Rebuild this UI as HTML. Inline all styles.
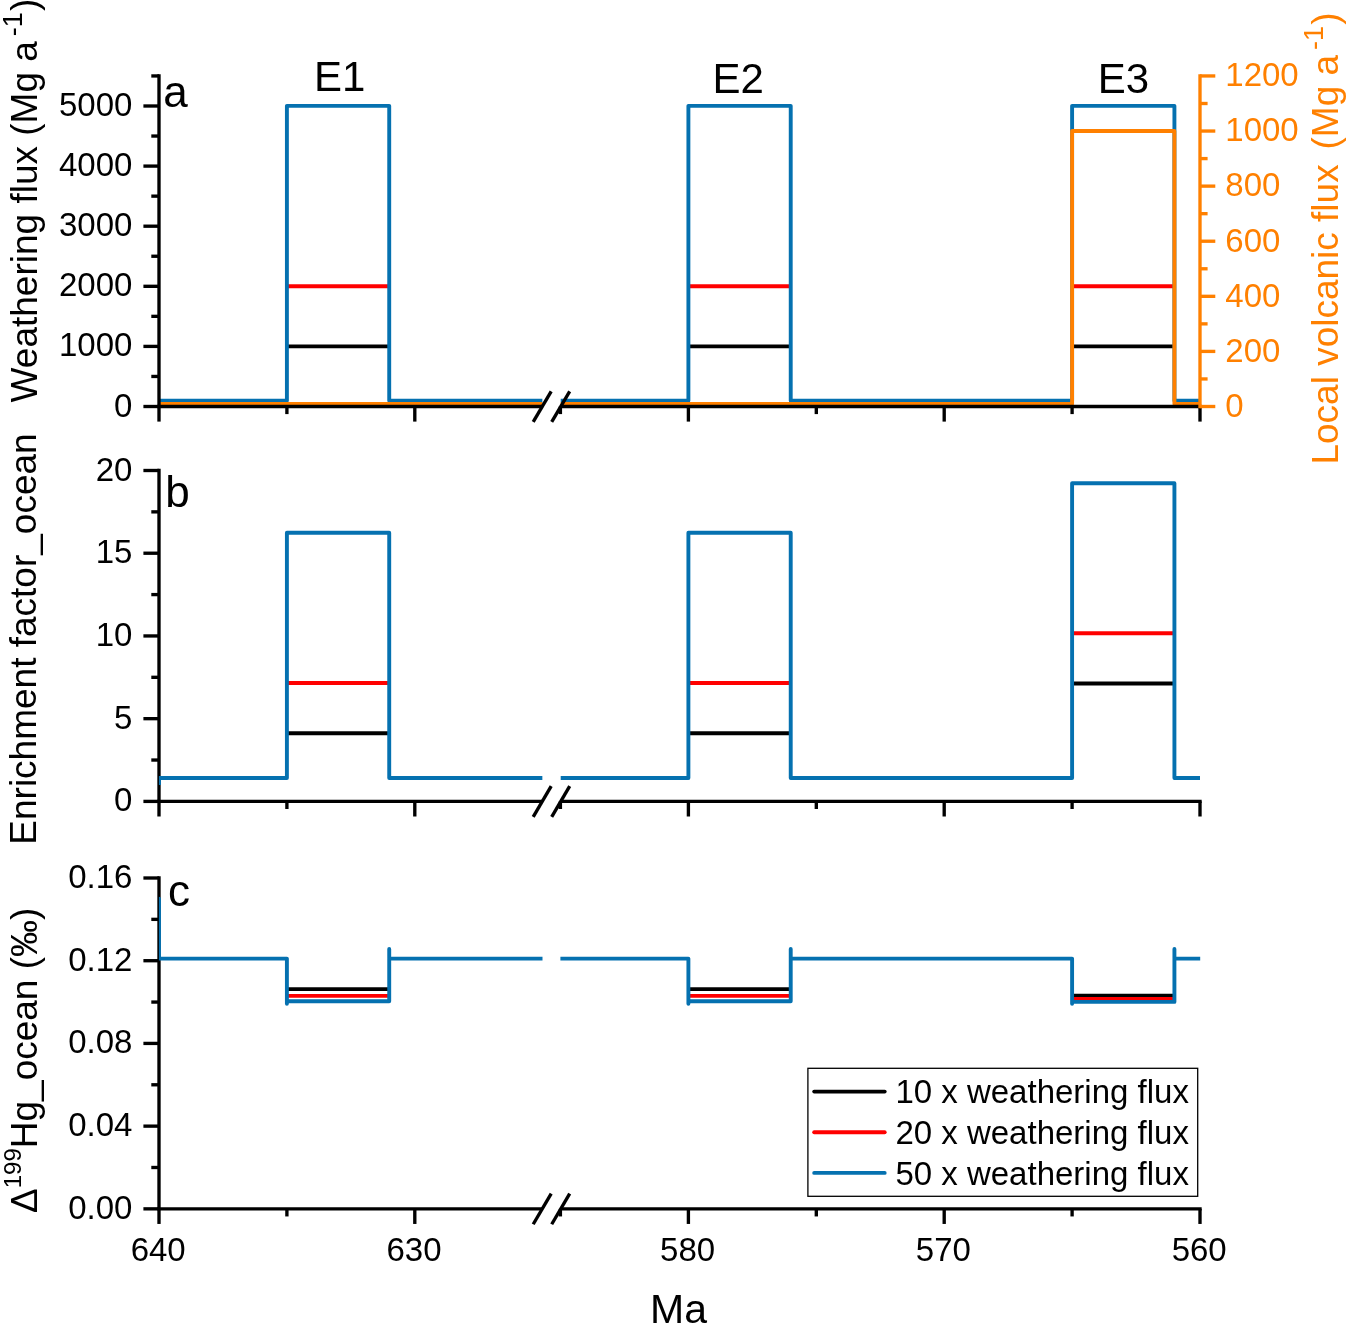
<!DOCTYPE html>
<html><head><meta charset="utf-8"><title>Figure</title>
<style>html,body{margin:0;padding:0;background:#fff}</style></head>
<body>
<svg width="1350" height="1336" viewBox="0 0 1350 1336" style="display:block;will-change:transform">
<rect width="1350" height="1336" fill="#fff"/>
<defs>
<clipPath id="clipa"><rect x="159.8" y="55.95" width="382.70" height="370.55"/><rect x="560.40" y="55.95" width="639.80" height="370.55"/></clipPath>
<clipPath id="clipb"><rect x="158.9" y="450.5" width="383.60" height="370.90"/><rect x="560.40" y="450.5" width="639.80" height="370.90"/></clipPath>
<clipPath id="clipc"><rect x="158.9" y="858.0" width="383.60" height="370.85"/><rect x="560.40" y="858.0" width="639.80" height="370.85"/></clipPath>
</defs>
<g clip-path="url(#clipa)">
<path d="M286.90,346.40 L389.22,346.40" fill="none" stroke="#000000" stroke-width="3.9" stroke-linejoin="round" stroke-linecap="butt"/>
<path d="M688.40,346.40 L790.72,346.40" fill="none" stroke="#000000" stroke-width="3.9" stroke-linejoin="round" stroke-linecap="butt"/>
<path d="M1072.10,346.40 L1174.42,346.40" fill="none" stroke="#000000" stroke-width="3.9" stroke-linejoin="round" stroke-linecap="butt"/>
<path d="M286.90,286.30 L389.22,286.30" fill="none" stroke="#FF0000" stroke-width="3.9" stroke-linejoin="round" stroke-linecap="butt"/>
<path d="M688.40,286.30 L790.72,286.30" fill="none" stroke="#FF0000" stroke-width="3.9" stroke-linejoin="round" stroke-linecap="butt"/>
<path d="M1072.10,286.30 L1174.42,286.30" fill="none" stroke="#FF0000" stroke-width="3.9" stroke-linejoin="round" stroke-linecap="butt"/>
<path d="M159.00,400.80 L286.90,400.80 L286.90,105.85 L389.22,105.85 L389.22,400.80 L542.70,400.80" fill="none" stroke="#0571B0" stroke-width="3.9" stroke-linejoin="round" stroke-linecap="butt"/>
<path d="M560.50,400.80 L688.40,400.80 L688.40,105.85 L790.72,105.85 L790.72,400.80 L1072.10,400.80 L1072.10,105.85 L1174.42,105.85 L1174.42,400.80 L1200.00,400.80" fill="none" stroke="#0571B0" stroke-width="3.9" stroke-linejoin="round" stroke-linecap="butt"/>
<path d="M159.00,404.00 L542.70,404.00" fill="none" stroke="#FF8000" stroke-width="3.9" stroke-linejoin="round" stroke-linecap="butt"/>
<path d="M560.50,404.00 L1072.10,404.00 L1072.10,131.04 L1174.42,131.04 L1174.42,404.00 L1200.00,404.00" fill="none" stroke="#FF8000" stroke-width="3.9" stroke-linejoin="round" stroke-linecap="butt"/>
</g>
<line x1="159.00" y1="74.28" x2="159.00" y2="406.50" stroke="#000000" stroke-width="3.35" stroke-linecap="butt"/>
<line x1="143.40" y1="406.50" x2="159.00" y2="406.50" stroke="#000000" stroke-width="3.35" stroke-linecap="butt"/>
<line x1="143.40" y1="346.40" x2="159.00" y2="346.40" stroke="#000000" stroke-width="3.35" stroke-linecap="butt"/>
<line x1="143.40" y1="286.30" x2="159.00" y2="286.30" stroke="#000000" stroke-width="3.35" stroke-linecap="butt"/>
<line x1="143.40" y1="226.20" x2="159.00" y2="226.20" stroke="#000000" stroke-width="3.35" stroke-linecap="butt"/>
<line x1="143.40" y1="166.10" x2="159.00" y2="166.10" stroke="#000000" stroke-width="3.35" stroke-linecap="butt"/>
<line x1="143.40" y1="106.00" x2="159.00" y2="106.00" stroke="#000000" stroke-width="3.35" stroke-linecap="butt"/>
<line x1="151.30" y1="376.45" x2="159.00" y2="376.45" stroke="#000000" stroke-width="3.35" stroke-linecap="butt"/>
<line x1="151.30" y1="316.35" x2="159.00" y2="316.35" stroke="#000000" stroke-width="3.35" stroke-linecap="butt"/>
<line x1="151.30" y1="256.25" x2="159.00" y2="256.25" stroke="#000000" stroke-width="3.35" stroke-linecap="butt"/>
<line x1="151.30" y1="196.15" x2="159.00" y2="196.15" stroke="#000000" stroke-width="3.35" stroke-linecap="butt"/>
<line x1="151.30" y1="136.05" x2="159.00" y2="136.05" stroke="#000000" stroke-width="3.35" stroke-linecap="butt"/>
<line x1="151.30" y1="75.95" x2="159.00" y2="75.95" stroke="#000000" stroke-width="3.35" stroke-linecap="butt"/>
<text x="132.4" y="416.50" font-size="33" text-anchor="end" font-family="Liberation Sans, Arial, sans-serif">0</text>
<text x="132.4" y="356.40" font-size="33" text-anchor="end" font-family="Liberation Sans, Arial, sans-serif">1000</text>
<text x="132.4" y="296.30" font-size="33" text-anchor="end" font-family="Liberation Sans, Arial, sans-serif">2000</text>
<text x="132.4" y="236.20" font-size="33" text-anchor="end" font-family="Liberation Sans, Arial, sans-serif">3000</text>
<text x="132.4" y="176.10" font-size="33" text-anchor="end" font-family="Liberation Sans, Arial, sans-serif">4000</text>
<text x="132.4" y="116.00" font-size="33" text-anchor="end" font-family="Liberation Sans, Arial, sans-serif">5000</text>
<line x1="157.32" y1="406.50" x2="542.70" y2="406.50" stroke="#000000" stroke-width="3.35" stroke-linecap="butt"/>
<line x1="560.50" y1="406.50" x2="1201.67" y2="406.50" stroke="#000000" stroke-width="3.35" stroke-linecap="butt"/>
<line x1="159.00" y1="406.50" x2="159.00" y2="421.60" stroke="#000000" stroke-width="3.35" stroke-linecap="butt"/>
<line x1="414.80" y1="406.50" x2="414.80" y2="421.60" stroke="#000000" stroke-width="3.35" stroke-linecap="butt"/>
<line x1="688.40" y1="406.50" x2="688.40" y2="421.60" stroke="#000000" stroke-width="3.35" stroke-linecap="butt"/>
<line x1="944.20" y1="406.50" x2="944.20" y2="421.60" stroke="#000000" stroke-width="3.35" stroke-linecap="butt"/>
<line x1="1200.00" y1="406.50" x2="1200.00" y2="421.60" stroke="#000000" stroke-width="3.35" stroke-linecap="butt"/>
<line x1="286.90" y1="406.50" x2="286.90" y2="414.10" stroke="#000000" stroke-width="3.35" stroke-linecap="butt"/>
<line x1="816.30" y1="406.50" x2="816.30" y2="414.10" stroke="#000000" stroke-width="3.35" stroke-linecap="butt"/>
<line x1="1072.10" y1="406.50" x2="1072.10" y2="414.10" stroke="#000000" stroke-width="3.35" stroke-linecap="butt"/>
<line x1="560.40" y1="406.50" x2="560.40" y2="414.10" stroke="#000000" stroke-width="3.35" stroke-linecap="butt"/>
<line x1="533.20" y1="421.90" x2="551.20" y2="391.30" stroke="#000000" stroke-width="3.35" stroke-linecap="butt"/>
<line x1="551.70" y1="421.90" x2="569.70" y2="391.30" stroke="#000000" stroke-width="3.35" stroke-linecap="butt"/>
<line x1="1200.00" y1="74.28" x2="1200.00" y2="408.18" stroke="#FF8000" stroke-width="3.35" stroke-linecap="butt"/>
<line x1="1200.00" y1="406.50" x2="1215.30" y2="406.50" stroke="#FF8000" stroke-width="3.35" stroke-linecap="butt"/>
<text x="1225.3" y="416.80" font-size="33" fill="#FF8000" font-family="Liberation Sans, Arial, sans-serif">0</text>
<line x1="1200.00" y1="351.41" x2="1215.30" y2="351.41" stroke="#FF8000" stroke-width="3.35" stroke-linecap="butt"/>
<text x="1225.3" y="361.71" font-size="33" fill="#FF8000" font-family="Liberation Sans, Arial, sans-serif">200</text>
<line x1="1200.00" y1="296.32" x2="1215.30" y2="296.32" stroke="#FF8000" stroke-width="3.35" stroke-linecap="butt"/>
<text x="1225.3" y="306.62" font-size="33" fill="#FF8000" font-family="Liberation Sans, Arial, sans-serif">400</text>
<line x1="1200.00" y1="241.22" x2="1215.30" y2="241.22" stroke="#FF8000" stroke-width="3.35" stroke-linecap="butt"/>
<text x="1225.3" y="251.53" font-size="33" fill="#FF8000" font-family="Liberation Sans, Arial, sans-serif">600</text>
<line x1="1200.00" y1="186.13" x2="1215.30" y2="186.13" stroke="#FF8000" stroke-width="3.35" stroke-linecap="butt"/>
<text x="1225.3" y="196.43" font-size="33" fill="#FF8000" font-family="Liberation Sans, Arial, sans-serif">800</text>
<line x1="1200.00" y1="131.04" x2="1215.30" y2="131.04" stroke="#FF8000" stroke-width="3.35" stroke-linecap="butt"/>
<text x="1225.3" y="141.34" font-size="33" fill="#FF8000" font-family="Liberation Sans, Arial, sans-serif">1000</text>
<line x1="1200.00" y1="75.95" x2="1215.30" y2="75.95" stroke="#FF8000" stroke-width="3.35" stroke-linecap="butt"/>
<text x="1225.3" y="86.25" font-size="33" fill="#FF8000" font-family="Liberation Sans, Arial, sans-serif">1200</text>
<line x1="1200.00" y1="378.95" x2="1207.60" y2="378.95" stroke="#FF8000" stroke-width="3.35" stroke-linecap="butt"/>
<line x1="1200.00" y1="323.86" x2="1207.60" y2="323.86" stroke="#FF8000" stroke-width="3.35" stroke-linecap="butt"/>
<line x1="1200.00" y1="268.77" x2="1207.60" y2="268.77" stroke="#FF8000" stroke-width="3.35" stroke-linecap="butt"/>
<line x1="1200.00" y1="213.68" x2="1207.60" y2="213.68" stroke="#FF8000" stroke-width="3.35" stroke-linecap="butt"/>
<line x1="1200.00" y1="158.59" x2="1207.60" y2="158.59" stroke="#FF8000" stroke-width="3.35" stroke-linecap="butt"/>
<line x1="1200.00" y1="103.50" x2="1207.60" y2="103.50" stroke="#FF8000" stroke-width="3.35" stroke-linecap="butt"/>
<line x1="159.00" y1="468.82" x2="159.00" y2="801.40" stroke="#000000" stroke-width="3.35" stroke-linecap="butt"/>
<line x1="143.40" y1="801.40" x2="159.00" y2="801.40" stroke="#000000" stroke-width="3.35" stroke-linecap="butt"/>
<line x1="143.40" y1="718.67" x2="159.00" y2="718.67" stroke="#000000" stroke-width="3.35" stroke-linecap="butt"/>
<line x1="143.40" y1="635.95" x2="159.00" y2="635.95" stroke="#000000" stroke-width="3.35" stroke-linecap="butt"/>
<line x1="143.40" y1="553.22" x2="159.00" y2="553.22" stroke="#000000" stroke-width="3.35" stroke-linecap="butt"/>
<line x1="143.40" y1="470.50" x2="159.00" y2="470.50" stroke="#000000" stroke-width="3.35" stroke-linecap="butt"/>
<line x1="151.30" y1="760.04" x2="159.00" y2="760.04" stroke="#000000" stroke-width="3.35" stroke-linecap="butt"/>
<line x1="151.30" y1="677.31" x2="159.00" y2="677.31" stroke="#000000" stroke-width="3.35" stroke-linecap="butt"/>
<line x1="151.30" y1="594.59" x2="159.00" y2="594.59" stroke="#000000" stroke-width="3.35" stroke-linecap="butt"/>
<line x1="151.30" y1="511.86" x2="159.00" y2="511.86" stroke="#000000" stroke-width="3.35" stroke-linecap="butt"/>
<text x="132.4" y="811.40" font-size="33" text-anchor="end" font-family="Liberation Sans, Arial, sans-serif">0</text>
<text x="132.4" y="728.67" font-size="33" text-anchor="end" font-family="Liberation Sans, Arial, sans-serif">5</text>
<text x="132.4" y="645.95" font-size="33" text-anchor="end" font-family="Liberation Sans, Arial, sans-serif">10</text>
<text x="132.4" y="563.22" font-size="33" text-anchor="end" font-family="Liberation Sans, Arial, sans-serif">15</text>
<text x="132.4" y="480.50" font-size="33" text-anchor="end" font-family="Liberation Sans, Arial, sans-serif">20</text>
<line x1="157.32" y1="801.40" x2="542.70" y2="801.40" stroke="#000000" stroke-width="3.35" stroke-linecap="butt"/>
<line x1="560.50" y1="801.40" x2="1201.67" y2="801.40" stroke="#000000" stroke-width="3.35" stroke-linecap="butt"/>
<line x1="159.00" y1="801.40" x2="159.00" y2="816.50" stroke="#000000" stroke-width="3.35" stroke-linecap="butt"/>
<line x1="414.80" y1="801.40" x2="414.80" y2="816.50" stroke="#000000" stroke-width="3.35" stroke-linecap="butt"/>
<line x1="688.40" y1="801.40" x2="688.40" y2="816.50" stroke="#000000" stroke-width="3.35" stroke-linecap="butt"/>
<line x1="944.20" y1="801.40" x2="944.20" y2="816.50" stroke="#000000" stroke-width="3.35" stroke-linecap="butt"/>
<line x1="1200.00" y1="801.40" x2="1200.00" y2="816.50" stroke="#000000" stroke-width="3.35" stroke-linecap="butt"/>
<line x1="286.90" y1="801.40" x2="286.90" y2="809.00" stroke="#000000" stroke-width="3.35" stroke-linecap="butt"/>
<line x1="816.30" y1="801.40" x2="816.30" y2="809.00" stroke="#000000" stroke-width="3.35" stroke-linecap="butt"/>
<line x1="1072.10" y1="801.40" x2="1072.10" y2="809.00" stroke="#000000" stroke-width="3.35" stroke-linecap="butt"/>
<line x1="560.40" y1="801.40" x2="560.40" y2="809.00" stroke="#000000" stroke-width="3.35" stroke-linecap="butt"/>
<line x1="533.20" y1="816.80" x2="551.20" y2="786.20" stroke="#000000" stroke-width="3.35" stroke-linecap="butt"/>
<line x1="551.70" y1="816.80" x2="569.70" y2="786.20" stroke="#000000" stroke-width="3.35" stroke-linecap="butt"/>
<g clip-path="url(#clipb)">
<path d="M286.90,733.23 L389.22,733.23" fill="none" stroke="#000000" stroke-width="3.9" stroke-linejoin="round" stroke-linecap="butt"/>
<path d="M688.40,733.23 L790.72,733.23" fill="none" stroke="#000000" stroke-width="3.9" stroke-linejoin="round" stroke-linecap="butt"/>
<path d="M1072.10,683.43 L1174.42,683.43" fill="none" stroke="#000000" stroke-width="3.9" stroke-linejoin="round" stroke-linecap="butt"/>
<path d="M286.90,682.94 L389.22,682.94" fill="none" stroke="#FF0000" stroke-width="3.9" stroke-linejoin="round" stroke-linecap="butt"/>
<path d="M688.40,682.94 L790.72,682.94" fill="none" stroke="#FF0000" stroke-width="3.9" stroke-linejoin="round" stroke-linecap="butt"/>
<path d="M1072.10,633.30 L1174.42,633.30" fill="none" stroke="#FF0000" stroke-width="3.9" stroke-linejoin="round" stroke-linecap="butt"/>
<path d="M159.00,785.00 L159.00,778.00 L286.90,778.00 L286.90,532.71 L389.22,532.71 L389.22,778.00 L542.70,778.00" fill="none" stroke="#0571B0" stroke-width="3.9" stroke-linejoin="round" stroke-linecap="butt"/>
<path d="M560.50,778.00 L688.40,778.00 L688.40,532.71 L790.72,532.71 L790.72,778.00 L1072.10,778.00 L1072.10,483.24 L1174.42,483.24 L1174.42,778.00 L1200.00,778.00" fill="none" stroke="#0571B0" stroke-width="3.9" stroke-linejoin="round" stroke-linecap="butt"/>
</g>
<line x1="159.00" y1="876.33" x2="159.00" y2="1208.85" stroke="#000000" stroke-width="3.35" stroke-linecap="butt"/>
<line x1="143.40" y1="1208.85" x2="159.00" y2="1208.85" stroke="#000000" stroke-width="3.35" stroke-linecap="butt"/>
<line x1="143.40" y1="1126.14" x2="159.00" y2="1126.14" stroke="#000000" stroke-width="3.35" stroke-linecap="butt"/>
<line x1="143.40" y1="1043.42" x2="159.00" y2="1043.42" stroke="#000000" stroke-width="3.35" stroke-linecap="butt"/>
<line x1="143.40" y1="960.71" x2="159.00" y2="960.71" stroke="#000000" stroke-width="3.35" stroke-linecap="butt"/>
<line x1="143.40" y1="878.00" x2="159.00" y2="878.00" stroke="#000000" stroke-width="3.35" stroke-linecap="butt"/>
<line x1="151.30" y1="1167.49" x2="159.00" y2="1167.49" stroke="#000000" stroke-width="3.35" stroke-linecap="butt"/>
<line x1="151.30" y1="1084.78" x2="159.00" y2="1084.78" stroke="#000000" stroke-width="3.35" stroke-linecap="butt"/>
<line x1="151.30" y1="1002.07" x2="159.00" y2="1002.07" stroke="#000000" stroke-width="3.35" stroke-linecap="butt"/>
<line x1="151.30" y1="919.36" x2="159.00" y2="919.36" stroke="#000000" stroke-width="3.35" stroke-linecap="butt"/>
<text x="132.4" y="1218.85" font-size="33" text-anchor="end" font-family="Liberation Sans, Arial, sans-serif">0.00</text>
<text x="132.4" y="1136.14" font-size="33" text-anchor="end" font-family="Liberation Sans, Arial, sans-serif">0.04</text>
<text x="132.4" y="1053.42" font-size="33" text-anchor="end" font-family="Liberation Sans, Arial, sans-serif">0.08</text>
<text x="132.4" y="970.71" font-size="33" text-anchor="end" font-family="Liberation Sans, Arial, sans-serif">0.12</text>
<text x="132.4" y="888.00" font-size="33" text-anchor="end" font-family="Liberation Sans, Arial, sans-serif">0.16</text>
<line x1="157.32" y1="1208.85" x2="542.70" y2="1208.85" stroke="#000000" stroke-width="3.35" stroke-linecap="butt"/>
<line x1="560.50" y1="1208.85" x2="1201.67" y2="1208.85" stroke="#000000" stroke-width="3.35" stroke-linecap="butt"/>
<line x1="159.00" y1="1208.85" x2="159.00" y2="1223.95" stroke="#000000" stroke-width="3.35" stroke-linecap="butt"/>
<line x1="414.80" y1="1208.85" x2="414.80" y2="1223.95" stroke="#000000" stroke-width="3.35" stroke-linecap="butt"/>
<line x1="688.40" y1="1208.85" x2="688.40" y2="1223.95" stroke="#000000" stroke-width="3.35" stroke-linecap="butt"/>
<line x1="944.20" y1="1208.85" x2="944.20" y2="1223.95" stroke="#000000" stroke-width="3.35" stroke-linecap="butt"/>
<line x1="1200.00" y1="1208.85" x2="1200.00" y2="1223.95" stroke="#000000" stroke-width="3.35" stroke-linecap="butt"/>
<line x1="286.90" y1="1208.85" x2="286.90" y2="1216.45" stroke="#000000" stroke-width="3.35" stroke-linecap="butt"/>
<line x1="816.30" y1="1208.85" x2="816.30" y2="1216.45" stroke="#000000" stroke-width="3.35" stroke-linecap="butt"/>
<line x1="1072.10" y1="1208.85" x2="1072.10" y2="1216.45" stroke="#000000" stroke-width="3.35" stroke-linecap="butt"/>
<line x1="560.40" y1="1208.85" x2="560.40" y2="1216.45" stroke="#000000" stroke-width="3.35" stroke-linecap="butt"/>
<line x1="533.20" y1="1224.25" x2="551.20" y2="1193.65" stroke="#000000" stroke-width="3.35" stroke-linecap="butt"/>
<line x1="551.70" y1="1224.25" x2="569.70" y2="1193.65" stroke="#000000" stroke-width="3.35" stroke-linecap="butt"/>
<g clip-path="url(#clipc)">
<path d="M286.90,989.10 L389.22,989.10" fill="none" stroke="#000000" stroke-width="3.9" stroke-linejoin="round" stroke-linecap="butt"/>
<path d="M688.40,989.10 L790.72,989.10" fill="none" stroke="#000000" stroke-width="3.9" stroke-linejoin="round" stroke-linecap="butt"/>
<path d="M1072.10,995.80 L1174.42,995.80" fill="none" stroke="#000000" stroke-width="3.9" stroke-linejoin="round" stroke-linecap="butt"/>
<path d="M286.90,995.90 L389.22,995.90" fill="none" stroke="#FF0000" stroke-width="3.9" stroke-linejoin="round" stroke-linecap="butt"/>
<path d="M688.40,995.90 L790.72,995.90" fill="none" stroke="#FF0000" stroke-width="3.9" stroke-linejoin="round" stroke-linecap="butt"/>
<path d="M1072.10,998.90 L1174.42,998.90" fill="none" stroke="#FF0000" stroke-width="3.9" stroke-linejoin="round" stroke-linecap="butt"/>
<path d="M159.00,898.70 L159.00,958.60 L286.90,958.60 L286.90,1003.80 L286.90,1001.30 L389.22,1001.30 L389.22,949.00 L389.22,958.60 L547.70,958.60" fill="none" stroke="#0571B0" stroke-width="3.9" stroke-linejoin="round" stroke-linecap="round"/>
<path d="M555.50,958.60 L688.40,958.60 L688.40,1003.80 L688.40,1001.30 L790.72,1001.30 L790.72,949.00 L790.72,958.60 L1072.10,958.60 L1072.10,1003.80 L1072.10,1001.90 L1174.42,1001.90 L1174.42,949.00 L1174.42,958.60 L1205.00,958.60" fill="none" stroke="#0571B0" stroke-width="3.9" stroke-linejoin="round" stroke-linecap="round"/>
</g>
<text x="158.20" y="1261.4" font-size="33" text-anchor="middle" font-family="Liberation Sans, Arial, sans-serif">640</text>
<text x="414.00" y="1261.4" font-size="33" text-anchor="middle" font-family="Liberation Sans, Arial, sans-serif">630</text>
<text x="687.60" y="1261.4" font-size="33" text-anchor="middle" font-family="Liberation Sans, Arial, sans-serif">580</text>
<text x="943.40" y="1261.4" font-size="33" text-anchor="middle" font-family="Liberation Sans, Arial, sans-serif">570</text>
<text x="1199.20" y="1261.4" font-size="33" text-anchor="middle" font-family="Liberation Sans, Arial, sans-serif">560</text>
<text x="678.6" y="1322.9" font-size="41" text-anchor="middle" font-family="Liberation Sans, Arial, sans-serif">Ma</text>
<text x="163.3" y="106.6" font-size="44" font-family="Liberation Sans, Arial, sans-serif">a</text>
<text x="165.2" y="507.0" font-size="44" font-family="Liberation Sans, Arial, sans-serif">b</text>
<text x="168.0" y="905.6" font-size="44" font-family="Liberation Sans, Arial, sans-serif">c</text>
<text x="314.0" y="90.7" font-size="42" font-family="Liberation Sans, Arial, sans-serif">E1</text>
<text x="712.5" y="92.6" font-size="42" font-family="Liberation Sans, Arial, sans-serif">E2</text>
<text x="1097.7" y="92.5" font-size="42" font-family="Liberation Sans, Arial, sans-serif">E3</text>
<text transform="translate(37.2,402.4) rotate(-90)" font-size="37" font-family="Liberation Sans, Arial, sans-serif">Weathering flux (Mg a<tspan font-size="27" dy="-15" dx="5">-1</tspan><tspan dy="15" dx="1.2">)</tspan></text>
<text transform="translate(36.0,844.7) rotate(-90)" font-size="37" font-family="Liberation Sans, Arial, sans-serif">Enrichment factor_ocean</text>
<text transform="translate(36.8,1213.0) rotate(-90)" font-size="37" font-family="Liberation Sans, Arial, sans-serif">Δ<tspan font-size="24" dy="-16">199</tspan><tspan dy="16">Hg_ocean (‰)</tspan></text>
<text transform="translate(1338.4,464.6) rotate(-90)" font-size="37" fill="#FF8000" font-family="Liberation Sans, Arial, sans-serif">Local volcanic flux <tspan dx="4.6">(Mg a</tspan><tspan font-size="27" dy="-15" dx="5">-1</tspan><tspan dy="15" dx="1.2">)</tspan></text>
<rect x="807.9" y="1068.3" width="389.8" height="128.0" fill="#fff" stroke="#000" stroke-width="1.3"/>
<line x1="814.20" y1="1091.60" x2="884.70" y2="1091.60" stroke="#000000" stroke-width="3.9" stroke-linecap="round"/>
<text x="895.4" y="1103.30" font-size="33" font-family="Liberation Sans, Arial, sans-serif">10 x weathering flux</text>
<line x1="814.20" y1="1132.30" x2="884.70" y2="1132.30" stroke="#FF0000" stroke-width="3.9" stroke-linecap="round"/>
<text x="895.4" y="1144.00" font-size="33" font-family="Liberation Sans, Arial, sans-serif">20 x weathering flux</text>
<line x1="814.20" y1="1172.90" x2="884.70" y2="1172.90" stroke="#0571B0" stroke-width="3.9" stroke-linecap="round"/>
<text x="895.4" y="1184.60" font-size="33" font-family="Liberation Sans, Arial, sans-serif">50 x weathering flux</text>
</svg>
</body></html>
